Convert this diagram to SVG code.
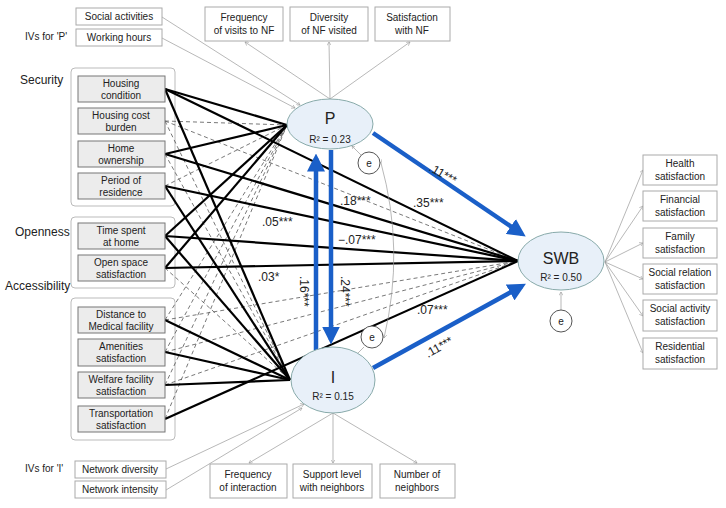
<svg xmlns="http://www.w3.org/2000/svg" width="726" height="508" viewBox="0 0 726 508">
<defs>
<style>
text{font-family:"Liberation Sans",Arial,sans-serif;fill:#222}
.bx{fill:#fff;stroke:#aaa;stroke-width:1}
.gb{fill:#ececec;stroke:#777;stroke-width:1}
.grp{fill:#fff;stroke:#bbb;stroke-width:1}
.el{fill:#e8f0f9;stroke:#8aa;stroke-width:1}
.s{stroke:#000;stroke-width:2.2;fill:none}
.d{stroke:#555;stroke-width:0.8;stroke-dasharray:4,3;fill:none}
.t{stroke:#999;stroke-width:0.7;fill:none}
.b{stroke:#1a5fc8;stroke-width:4.5;fill:none}
.sm{font-size:10px}
.lb{font-size:12px}
</style>
<marker id="ga" markerWidth="6" markerHeight="6" refX="5" refY="3" orient="auto"><path d="M0,0 L5,3 L0,6" fill="none" stroke="#999" stroke-width="0.8"/></marker>
<marker id="ba" markerWidth="4" markerHeight="4" refX="3" refY="2" orient="auto"><path d="M0,0 L4,2 L0,4z" fill="#1a5fc8"/></marker>
</defs>
<g id="groups">
<rect class="grp" x="71" y="68" width="104" height="138" rx="4"/>
<rect class="grp" x="71" y="217" width="104" height="71" rx="4"/>
<rect class="grp" x="71" y="298" width="104" height="142" rx="4"/>
</g>
<g id="connectors">
<line class="d" x1="165" y1="121" x2="287" y2="125"/><line class="d" x1="165" y1="121" x2="290" y2="380"/><line class="d" x1="165" y1="121" x2="518" y2="261"/>
<line class="d" x1="165" y1="154" x2="290" y2="380"/>
<line class="d" x1="165" y1="186" x2="287" y2="125"/>
<line class="d" x1="165" y1="268" x2="290" y2="380"/>
<line class="d" x1="165" y1="320" x2="287" y2="125"/><line class="d" x1="165" y1="320" x2="518" y2="261"/>
<line class="d" x1="165" y1="352" x2="287" y2="125"/><line class="d" x1="165" y1="352" x2="518" y2="261"/>
<line class="d" x1="165" y1="385" x2="287" y2="125"/><line class="d" x1="165" y1="385" x2="518" y2="261"/>
<line class="d" x1="165" y1="419" x2="287" y2="125"/>
<line class="s" x1="165" y1="89" x2="287" y2="125"/><line class="s" x1="165" y1="89" x2="518" y2="261"/><line class="s" x1="165" y1="89" x2="290" y2="380"/>
<line class="s" x1="165" y1="154" x2="287" y2="125"/><line class="s" x1="165" y1="154" x2="518" y2="261"/>
<line class="s" x1="165" y1="186" x2="518" y2="261"/><line class="s" x1="165" y1="186" x2="290" y2="380"/>
<line class="s" x1="165" y1="236" x2="287" y2="125"/><line class="s" x1="165" y1="236" x2="518" y2="261"/><line class="s" x1="165" y1="236" x2="290" y2="380"/>
<line class="s" x1="165" y1="268" x2="287" y2="125"/><line class="s" x1="165" y1="268" x2="518" y2="261"/>
<line class="s" x1="165" y1="320" x2="290" y2="380"/>
<line class="s" x1="165" y1="352" x2="290" y2="380"/>
<line class="s" x1="165" y1="385" x2="290" y2="380"/>
<line class="s" x1="165" y1="419" x2="518" y2="261"/>
<line class="t" x1="162" y1="17" x2="300" y2="105" marker-end="url(#ga)"/>
<line class="t" x1="162" y1="38" x2="295" y2="108" marker-end="url(#ga)"/>
<line class="t" x1="330" y1="99" x2="245" y2="42" marker-end="url(#ga)"/>
<line class="t" x1="330" y1="99" x2="329" y2="42" marker-end="url(#ga)"/>
<line class="t" x1="330" y1="99" x2="410" y2="42" marker-end="url(#ga)"/>
<line class="t" x1="333" y1="413" x2="249" y2="463" marker-end="url(#ga)"/>
<line class="t" x1="333" y1="413" x2="333" y2="463" marker-end="url(#ga)"/>
<line class="t" x1="333" y1="413" x2="417" y2="463" marker-end="url(#ga)"/>
<line class="t" x1="166" y1="469" x2="304" y2="404" marker-end="url(#ga)"/>
<line class="t" x1="166" y1="490" x2="302" y2="408" marker-end="url(#ga)"/>
<line class="t" x1="605" y1="262" x2="643" y2="170" marker-end="url(#ga)"/>
<line class="t" x1="605" y1="262" x2="643" y2="206" marker-end="url(#ga)"/>
<line class="t" x1="605" y1="262" x2="643" y2="243" marker-end="url(#ga)"/>
<line class="t" x1="605" y1="262" x2="643" y2="279" marker-end="url(#ga)"/>
<line class="t" x1="605" y1="262" x2="643" y2="316" marker-end="url(#ga)"/>
<line class="t" x1="605" y1="262" x2="643" y2="353" marker-end="url(#ga)"/>
<line class="t" x1="361" y1="155" x2="352" y2="146" marker-end="url(#ga)"/>
<line class="t" x1="364" y1="347" x2="356" y2="355" marker-end="url(#ga)"/>
<line class="t" x1="561" y1="310" x2="561" y2="292" marker-end="url(#ga)"/>
<path class="t" d="M381,163 Q405,250 384,338" marker-start="url(#ga)" marker-end="url(#ga)"/>
<line class="b" x1="373" y1="133" x2="522" y2="234" marker-end="url(#ba)"/>
<line class="b" x1="373" y1="368" x2="522" y2="286" marker-end="url(#ba)"/>
<line class="b" x1="331" y1="150" x2="331" y2="340" marker-end="url(#ba)"/>
<line class="b" x1="316" y1="350" x2="316" y2="158" marker-end="url(#ba)"/>
</g>
<g id="P"><ellipse class="el" cx="330" cy="124" rx="43" ry="25"/><text x="330" y="124" text-anchor="middle" font-size="16">P</text><text x="330" y="143" text-anchor="middle" class="sm">R² = 0.23</text></g>
<g id="I"><ellipse class="el" cx="333" cy="380" rx="42" ry="33"/><text x="333" y="383" text-anchor="middle" font-size="16">I</text><text x="333" y="400" text-anchor="middle" class="sm">R² = 0.15</text></g>
<g id="SWB"><ellipse class="el" cx="561" cy="261" rx="43" ry="29"/><text x="561" y="264" text-anchor="middle" font-size="16">SWB</text><text x="561" y="281" text-anchor="middle" class="sm">R² = 0.50</text></g>
<g id="eP"><circle cx="369" cy="163" r="11" fill="#fff" stroke="#555"/><text x="369" y="167" text-anchor="middle" class="sm">e</text></g>
<g id="eI"><circle cx="372" cy="337" r="11" fill="#fff" stroke="#555"/><text x="372" y="341" text-anchor="middle" class="sm">e</text></g>
<g id="eS"><circle cx="561" cy="321" r="11" fill="#fff" stroke="#555"/><text x="561" y="325" text-anchor="middle" class="sm">e</text></g>
<g id="labels" class="lb">
<text x="20" y="84">Security</text><text x="15" y="236">Openness</text><text x="5" y="290">Accessibility</text>
<text x="25" y="40" class="sm">IVs for 'P'</text><text x="25" y="472" class="sm">IVs for 'I'</text>
<text x="262" y="226">.05***</text><text x="340" y="205">.18***</text><text x="413" y="207">.35***</text>
<text x="338" y="244">−.07***</text><text x="258" y="281">.03*</text><text x="417" y="314">.07***</text>
<text transform="translate(428,170) rotate(30)">.11***</text>
<text transform="translate(428,358) rotate(-30)">.11***</text>
<text transform="translate(300,276) rotate(90)">.16***</text>
<text transform="translate(341,276) rotate(90)">.24***</text>
</g>
<g id="ivs" class="sm">
<rect class="bx" x="76" y="8" width="86" height="17"/><text x="119" y="20" text-anchor="middle">Social activities</text>
<rect class="bx" x="76" y="29" width="86" height="17"/><text x="119" y="41" text-anchor="middle">Working hours</text>
<rect class="bx" x="75" y="461" width="91" height="17"/><text x="120" y="473" text-anchor="middle">Network diversity</text>
<rect class="bx" x="75" y="481" width="91" height="17"/><text x="120" y="493" text-anchor="middle">Network intensity</text>
</g>
<g id="preds" class="sm" text-anchor="middle">
<rect class="gb" x="78" y="76" width="87" height="26"/><text x="121" y="87">Housing</text><text x="121" y="99">condition</text>
<rect class="gb" x="78" y="108" width="87" height="26"/><text x="121" y="119">Housing cost</text><text x="121" y="131">burden</text>
<rect class="gb" x="78" y="141" width="87" height="26"/><text x="121" y="152">Home</text><text x="121" y="164">ownership</text>
<rect class="gb" x="78" y="173" width="87" height="26"/><text x="121" y="184">Period of</text><text x="121" y="196">residence</text>
<rect class="gb" x="78" y="223" width="87" height="26"/><text x="121" y="234">Time spent</text><text x="121" y="246">at home</text>
<rect class="gb" x="78" y="255" width="87" height="26"/><text x="121" y="266">Open space</text><text x="121" y="278">satisfaction</text>
<rect class="gb" x="78" y="307" width="87" height="26"/><text x="121" y="318">Distance to</text><text x="121" y="330">Medical facility</text>
<rect class="gb" x="78" y="339" width="87" height="27"/><text x="121" y="350">Amenities</text><text x="121" y="362">satisfaction</text>
<rect class="gb" x="78" y="372" width="87" height="26"/><text x="121" y="383">Welfare facility</text><text x="121" y="395">satisfaction</text>
<rect class="gb" x="78" y="406" width="87" height="26"/><text x="121" y="417">Transportation</text><text x="121" y="429">satisfaction</text>
</g>
<g id="inds" class="sm" text-anchor="middle">
<rect class="bx" x="205" y="7" width="78" height="34"/><text x="244" y="21">Frequency</text><text x="244" y="34">of visits to NF</text>
<rect class="bx" x="290" y="7" width="78" height="34"/><text x="329" y="21">Diversity</text><text x="329" y="34">of NF visited</text>
<rect class="bx" x="375" y="7" width="75" height="34"/><text x="412" y="21">Satisfaction</text><text x="412" y="34">with NF</text>
<rect class="bx" x="210" y="464" width="77" height="34"/><text x="248" y="478">Frequency</text><text x="248" y="491">of interaction</text>
<rect class="bx" x="293" y="464" width="79" height="34"/><text x="332" y="478">Support level</text><text x="332" y="491">with neighbors</text>
<rect class="bx" x="380" y="464" width="75" height="34"/><text x="417" y="478">Number of</text><text x="417" y="491">neighbors</text>
<rect class="bx" x="643" y="155" width="74" height="30"/><text x="680" y="167">Health</text><text x="680" y="180">satisfaction</text>
<rect class="bx" x="643" y="191" width="74" height="30"/><text x="680" y="203">Financial</text><text x="680" y="216">satisfaction</text>
<rect class="bx" x="643" y="228" width="74" height="30"/><text x="680" y="240">Family</text><text x="680" y="253">satisfaction</text>
<rect class="bx" x="643" y="264" width="74" height="30"/><text x="680" y="276">Social relation</text><text x="680" y="289">satisfaction</text>
<rect class="bx" x="643" y="300" width="74" height="31"/><text x="680" y="312">Social activity</text><text x="680" y="325">satisfaction</text>
<rect class="bx" x="643" y="338" width="74" height="31"/><text x="680" y="350">Residential</text><text x="680" y="363">satisfaction</text>
</g>
</svg>
